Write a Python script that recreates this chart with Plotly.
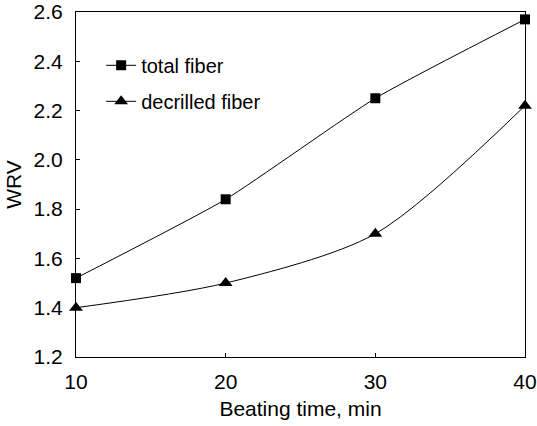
import plotly.graph_objects as go

beating_time = [10, 20, 30, 40]
total_fiber = [1.52, 1.84, 2.25, 2.57]
decrilled_fiber = [1.40, 1.50, 1.70, 2.22]
x_ticks = [10, 20, 30, 40]
y_ticks = [1.2, 1.4, 1.6, 1.8, 2.0, 2.2, 2.4, 2.6]

font = "Liberation Sans, Arial, sans-serif"

fig = go.Figure()
fig.add_trace(go.Scatter(
    x=beating_time, y=total_fiber, name="total fiber", mode="lines+markers",
    line=dict(color="black", width=1, shape="spline", smoothing=0.5),
    marker=dict(symbol="square", size=10, color="black"),
    cliponaxis=False, legendgroup="a"))
fig.add_trace(go.Scatter(
    x=beating_time, y=decrilled_fiber, name="decrilled fiber", mode="lines+markers",
    line=dict(color="black", width=1, shape="spline", smoothing=0.8),
    marker=dict(symbol="triangle-up", size=12, color="black"),
    cliponaxis=False, legendgroup="b"))

axis_common = dict(showline=True, linecolor="black", linewidth=1, mirror=True,
                   ticks="inside", ticklen=4, tickcolor="black", showgrid=False,
                   zeroline=False, ticklabeloverflow="allow", automargin=False,
                   tickfont=dict(size=21, color="black", family=font))

fig.update_xaxes(range=[10, 40], tickvals=x_ticks, ticktext=[str(v) for v in x_ticks],
                 title=dict(text="Beating time, min", font=dict(size=21, color="black", family=font), standoff=9),
                 ticklabelstandoff=6, **axis_common)
fig.update_yaxes(range=[1.2, 2.6], tickvals=y_ticks, ticktext=[f"{v:.1f}" for v in y_ticks],
                 title=dict(text="WRV", font=dict(size=21, color="black", family=font), standoff=6),
                 ticklabelstandoff=8, **axis_common)

fig.update_layout(
    width=537, height=426,
    margin=dict(l=76, r=12, t=12, b=69),
    paper_bgcolor="white", plot_bgcolor="white",
    font=dict(family=font, color="black"),
    legend=dict(x=0.056, y=0.902, xanchor="left", yanchor="top",
                font=dict(size=20, color="black", family=font),
                bgcolor="rgba(0,0,0,0)", tracegroupgap=7),
)

fig.write_html("out.html")
